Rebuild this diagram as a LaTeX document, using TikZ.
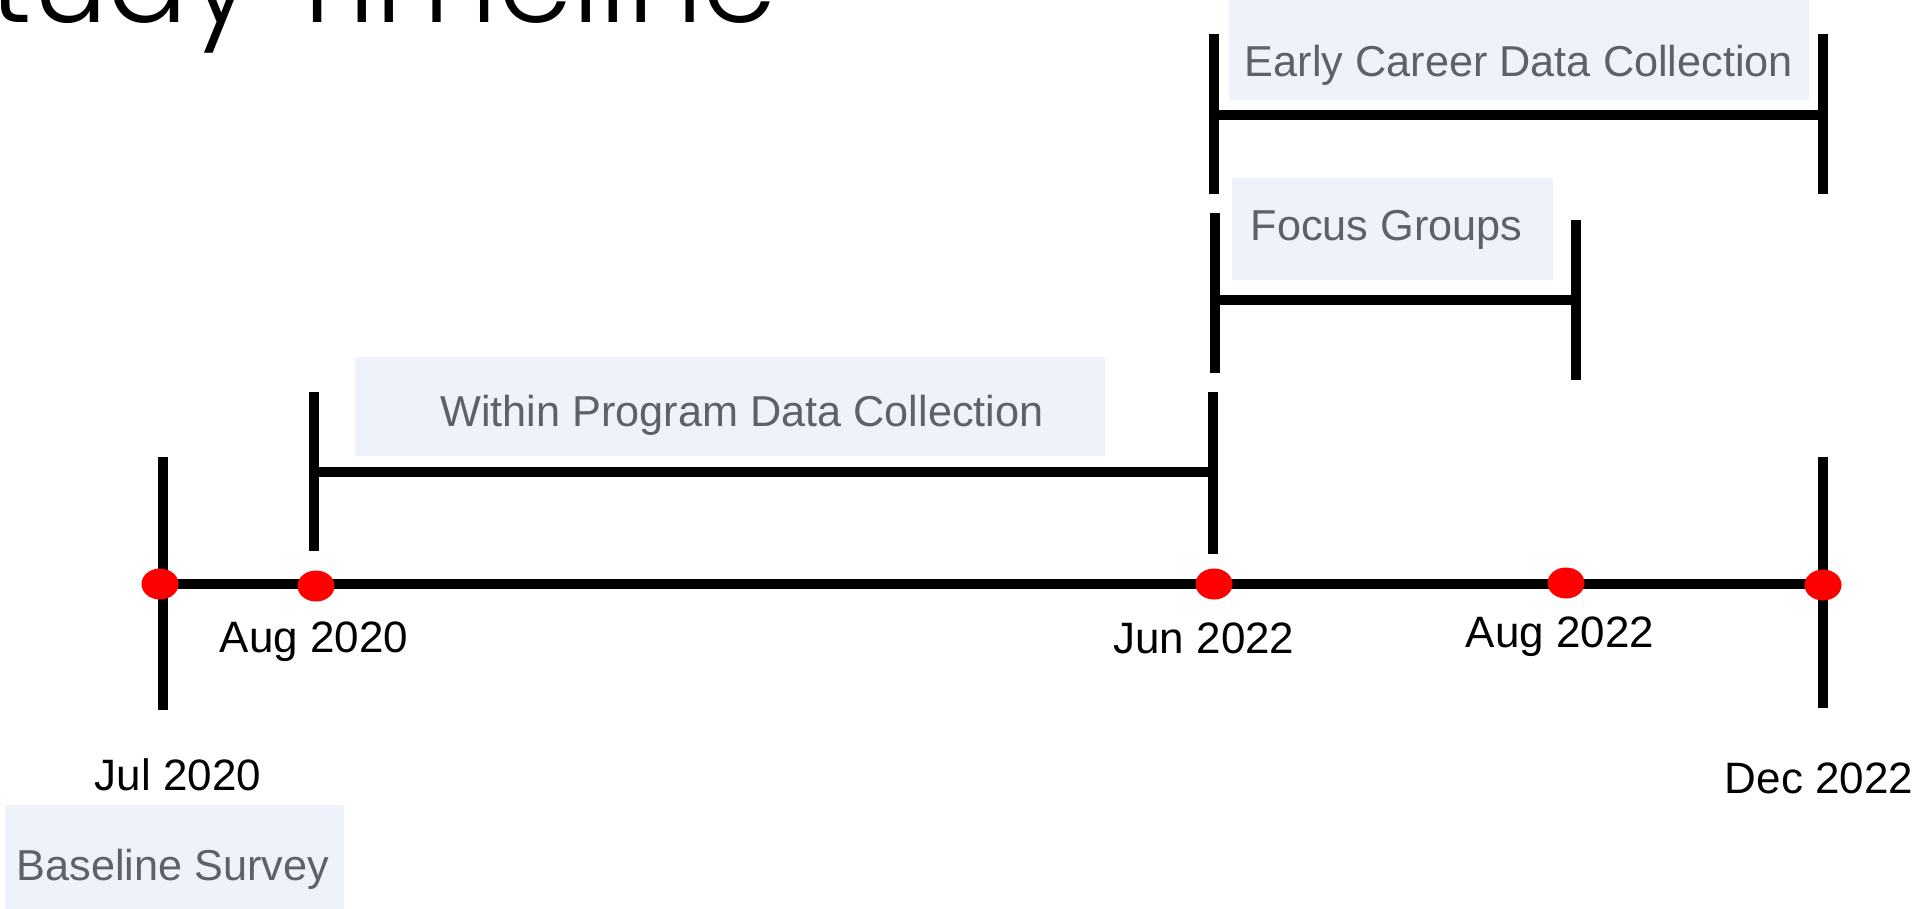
\documentclass[tikz,border=0pt]{standalone}
\usepackage{fontspec}
\setmainfont{Liberation Sans}
\newfontfamily\titlefont{Poppins}[UprightFont=* Light]
\usetikzlibrary{shapes.geometric}

\definecolor{tagfill}{HTML}{EEF2FA}
\definecolor{tagtext}{HTML}{5C616B}

\begin{document}
\begin{tikzpicture}[x=0.01cm,y=-0.01cm,
    bar/.style={line width=0.1cm},
    milestone/.style={ellipse,fill=red,inner sep=0pt,minimum width=0.37cm,minimum height=0.31cm},
    datelabel/.style={anchor=base,inner sep=0pt,font=\fontsize{12.5}{15}\selectfont},
    tag/.style={anchor=base,inner sep=0pt,text=tagtext,font=\fontsize{12.3}{15}\selectfont}]

    \useasboundingbox (0,0) rectangle (1921,908);

    % heading, partly off the page
    \node[anchor=base east,inner sep=0pt,font=\titlefont\fontsize{34}{40}\selectfont] (title) at (778,22) {Study Timeline};

    % shaded tags behind the phase names
    \fill[tagfill] (1229,-5) rectangle (1809,100);
    \fill[tagfill] (1232,178) rectangle (1553,280);
    \fill[tagfill] (355,357) rectangle (1105,456);
    \fill[tagfill] (5,805) rectangle (344,915);
    \node[tag] (early) at (1519,76) {Early Career Data Collection};
    \node[tag,anchor=base west] (focus) at (1250,240) {Focus Groups};
    \node[tag] (within) at (742,426) {Within Program Data Collection};
    \node[tag] (base) at (173,880) {Baseline Survey};

    % main axis with end stops
    \coordinate (jul) at (161,584);
    \coordinate (dec) at (1823,584);
    \draw[bar] (jul) -- (dec);
    \draw[bar] (163,457) -- (163,710);
    \draw[bar] (1823,457) -- (1823,708);

    % phase brackets
    \draw[bar] (314,392) -- (314,551);
    \draw[bar] (1213,392) -- (1213,554);
    \draw[bar] (314,472) -- (1213,472);
    \draw[bar] (1215,213) -- (1215,373);
    \draw[bar] (1576,220) -- (1576,380);
    \draw[bar] (1215,300) -- (1576,300);
    \draw[bar] (1214,34) -- (1214,194);
    \draw[bar] (1823,34) -- (1823,194);
    \draw[bar] (1214,115) -- (1823,115);

    % milestones
    \node[milestone] (m1) at (160,584) {};
    \node[milestone] (m2) at (316,586) {};
    \node[milestone] (m3) at (1214,584) {};
    \node[milestone] (m4) at (1566,583) {};
    \node[milestone] (m5) at (1823,585) {};

    \node[datelabel] (d2) at (314,652) {Aug 2020};
    \node[datelabel] (d3) at (1204,653) {Jun 2022};
    \node[datelabel] (d4) at (1560,647) {Aug 2022};
    \node[datelabel] (d1) at (178,790) {Jul 2020};
    \node[datelabel] (d5) at (1819,793) {Dec 2022};
\end{tikzpicture}
\end{document}
